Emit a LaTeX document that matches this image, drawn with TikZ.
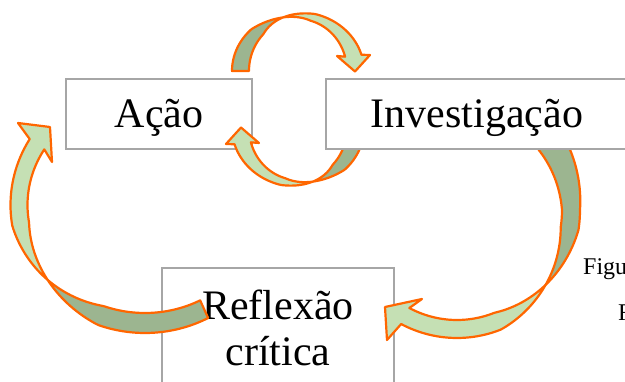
\documentclass[tikz,border=0pt]{standalone}
\usepackage{fontspec}
\setmainfont{Liberation Serif}
\usetikzlibrary{positioning}
\definecolor{verdeclaro}{HTML}{C5E0B4}
\definecolor{verdeescuro}{HTML}{9CB590}
\definecolor{laranja}{HTML}{FF6600}
\definecolor{cinza}{HTML}{A6A6A6}
\tikzset{
  caixa/.style={rectangle, draw=cinza, line width=1.8pt, fill=white, font=\fontsize{42}{46}\selectfont},
  umalinha/.style={inner ysep=0pt, text height=48.5pt, text depth=21.5pt, minimum height=70pt},
  frente/.style={fill=verdeclaro, draw=laranja, line width=2.2pt, line join=round},
  verso/.style={fill=verdeescuro, draw=laranja, line width=2.2pt, line join=round},
  legenda/.style={font=\fontsize{24}{28}\selectfont, inner sep=0pt, anchor=base west}
}
\begin{document}
\begin{tikzpicture}[x=1pt, y=-1pt]
    \useasboundingbox (0,0) rectangle (625,382);
    \clip (0,0) rectangle (625,382);

    \node[caixa, umalinha, minimum width=186pt] (acao) at (159,114) {Ação};
    \node[caixa, minimum width=232pt, inner ysep=22.3pt, align=center, anchor=north] (reflexao) at (278,267) {Reflexão\\crítica};

    \draw[verso] plot[domain=180:255, samples=40] ({298+(57.5+8.5*min(1,(255-\x)/30))*cos(\x)}, {71+(55.5+3.5*min(1,(255-\x)/30))*sin(\x)})
        -- plot[domain=255:180, samples=40] ({298+(57.5-8.5*min(1,(255-\x)/30))*cos(\x)}, {71+(55.5-3.5*min(1,(255-\x)/30))*sin(\x)}) -- cycle;
    \draw[frente] plot[domain=255:344, samples=40] ({298+(57.5+8.5*min(1,(\x-255)/30))*cos(\x)}, {71+(55.5+3.5*min(1,(\x-255)/30))*sin(\x)})
        -- (370,55) -- (355,71.5) -- (337,56)
        -- plot[domain=344:255, samples=40] ({298+(57.5-8.5*min(1,(\x-255)/30))*cos(\x)}, {71+(55.5-3.5*min(1,(\x-255)/30))*sin(\x)}) -- cycle;

    \begin{scope}[rotate around={180:(298,99.5)}]
        \draw[verso] plot[domain=180:255, samples=40] ({298+(57.5+8.5*min(1,(255-\x)/30))*cos(\x)}, {71+(55.5+3.5*min(1,(255-\x)/30))*sin(\x)})
            -- plot[domain=255:180, samples=40] ({298+(57.5-8.5*min(1,(255-\x)/30))*cos(\x)}, {71+(55.5-3.5*min(1,(255-\x)/30))*sin(\x)}) -- cycle;
        \draw[frente] plot[domain=255:344, samples=40] ({298+(57.5+8.5*min(1,(\x-255)/30))*cos(\x)}, {71+(55.5+3.5*min(1,(\x-255)/30))*sin(\x)})
            -- (370,55) -- (355,71.5) -- (337,56)
            -- plot[domain=344:255, samples=40] ({298+(57.5-8.5*min(1,(\x-255)/30))*cos(\x)}, {71+(55.5-3.5*min(1,(\x-255)/30))*sin(\x)}) -- cycle;
    \end{scope}

    \draw[verso] plot[domain=-35:39, samples=50] ({457+(114+9*min(1,(39-\x)/30)*(1+0.5*max(0,-\x/30)))*cos(\x)}, {210+(119+9*min(1,(39-\x)/30)*(1+0.5*max(0,-\x/30)))*sin(\x)})
        -- plot[domain=39:-35, samples=50] ({457+(114-9*min(1,(39-\x)/30)*(1+0.5*max(0,-\x/30)))*cos(\x)}, {210+(119-9*min(1,(39-\x)/30)*(1+0.5*max(0,-\x/30)))*sin(\x)}) -- cycle;
    \draw[frente] plot[domain=39:117, samples=50] ({457+(114+9*min(1,(\x-39)/30))*cos(\x)}, {210+(119+9*min(1,(\x-39)/30))*sin(\x)})
        -- (387,340) -- (385,307) -- (422,299)
        -- plot[domain=117:39, samples=50] ({457+(114-9*min(1,(\x-39)/30))*cos(\x)}, {210+(119-9*min(1,(\x-39)/30))*sin(\x)}) -- cycle;

    \draw[verso] plot[domain=62:140.6, samples=50] ({145+(126+8.5*min(1,(140.6-\x)/30))*cos(\x)}, {205+(118+10*min(1,(140.6-\x)/30))*sin(\x)})
        -- plot[domain=140.6:62, samples=50] ({145+(126-8.5*min(1,(140.6-\x)/30))*cos(\x)}, {205+(118-10*min(1,(140.6-\x)/30))*sin(\x)}) -- cycle;
    \draw[frente] plot[domain=140.6:211, samples=50] ({145+(126+8.5*min(1,(\x-140.6)/30))*cos(\x)}, {205+(118+10*min(1,(\x-140.6)/30))*sin(\x)})
        -- (18,123) -- (50,127) -- (52,162)
        -- plot[domain=211:140.6, samples=50] ({145+(126-8.5*min(1,(\x-140.6)/30))*cos(\x)}, {205+(118-10*min(1,(\x-140.6)/30))*sin(\x)}) -- cycle;

    \node[caixa, umalinha, minimum width=302pt] (investigacao) at (477,114) {Investigação};

    \node[legenda] (figura) at (583,275) {Figu};
    \node[legenda] (fonte) at (618,321) {F};
\end{tikzpicture}
\end{document}
